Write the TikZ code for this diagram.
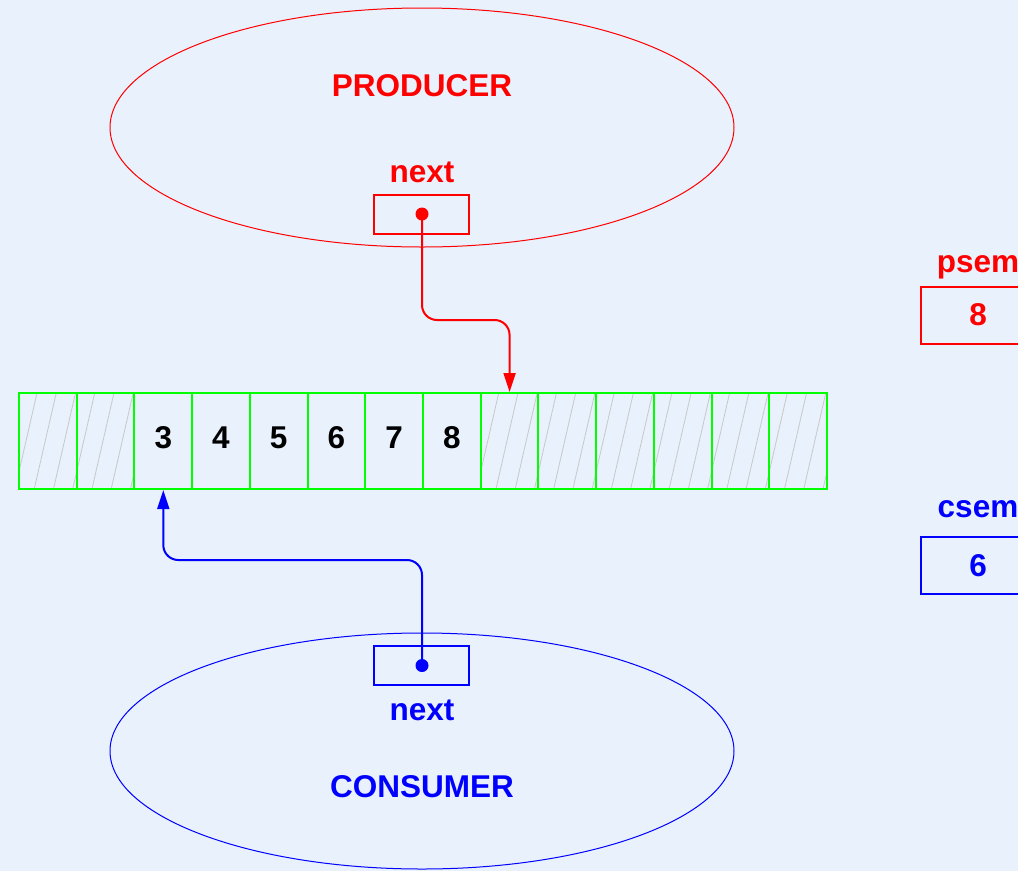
\documentclass[tikz,border=0pt]{standalone}
\usepackage{fontspec}
\setmainfont{Liberation Sans}
\usetikzlibrary{shapes.geometric,arrows.meta}
\definecolor{bg}{RGB}{232,241,252}
\definecolor{cellgreen}{RGB}{0,255,0}
\definecolor{hatchgray}{RGB}{200,200,200}
\begin{document}
\begin{tikzpicture}[x=1pt,y=-1pt,
  lbl/.style={font=\fontsize{31.5}{36}\selectfont\bfseries, inner sep=0, anchor=base},
  cellbox/.style={draw=cellgreen, line width=2pt, minimum width=57.714pt, minimum height=96pt, inner sep=0, anchor=north west},
  ptrbox/.style={line width=2pt, minimum width=95pt, minimum height=39pt, inner sep=0},
  ptrdot/.style={circle, minimum size=13pt, inner sep=0},
  sembox/.style={line width=2pt, minimum width=114pt, minimum height=57pt, inner sep=0},
  process/.style={ellipse, line width=1pt, minimum width=624pt, inner sep=0},
  ptr/.style={line width=2pt, rounded corners=15pt, -{Triangle[length=19pt,width=12pt]}}]
\useasboundingbox (0,0) rectangle (1018,871);
\fill[bg] (0,0) rectangle (1018,871);

% hatching of empty slots
\begin{scope}
  \clip (18,392) rectangle (134,488) (480,392) rectangle (826,488);
  \foreach \k in {0,...,46}
    \draw[hatchgray, line width=0.8pt] ({18+\k*19.238-22},488) -- ({18+\k*19.238},392);
\end{scope}

% buffer cells
\foreach \i in {1,...,14}
  \node[cellbox] (c\i) at ({18+(\i-1)*57.714},392) {};
\foreach \i/\v in {3/3,4/4,5/5,6/6,7/7,8/8}
  \node[lbl, text=black] (t\i) at ([yshift=-7pt]c\i.center) {\v};

% producer
\node[process, draw=red, minimum height=239pt] (prod) at (422,127.5) {};
\node[lbl, text=red] (prodlbl) at (422,96) {PRODUCER};
\node[lbl, text=red] (pnextlbl) at (422,182) {next};
\node[ptrbox, draw=red] (pbox) at (421.5,214.5) {};
\node[ptrdot, fill=red] (pdot) at (422,214) {};
\coordinate (pbend) at (0,320);
\draw[ptr, red] (pdot.center) -- (pdot.center |- pbend) -- (c9.north |- pbend) -- (c9.north);

% consumer
\node[process, draw=blue, minimum height=236pt] (cons) at (422,751) {};
\node[lbl, text=blue] (conslbl) at (422,797) {CONSUMER};
\node[lbl, text=blue] (cnextlbl) at (422,720) {next};
\node[ptrbox, draw=blue] (cbox) at (421.5,665.5) {};
\node[ptrdot, fill=blue] (cdot) at (422,665.5) {};
\coordinate (cbend) at (0,560);
\draw[ptr, blue] (cdot.center) -- (cdot.center |- cbend) -- (c3.south |- cbend) -- (c3.south);

% semaphores
\node[lbl, text=red] (psemlbl) at (978,272) {psem};
\node[sembox, draw=red] (psem) at (978,315.5) {};
\node[lbl, text=red] (psemval) at (978,325) {8};
\node[lbl, text=blue] (csemlbl) at (978,517) {csem};
\node[sembox, draw=blue] (csem) at (978,565) {};
\node[lbl, text=blue] (csemval) at (978,576) {6};
\end{tikzpicture}
\end{document}
